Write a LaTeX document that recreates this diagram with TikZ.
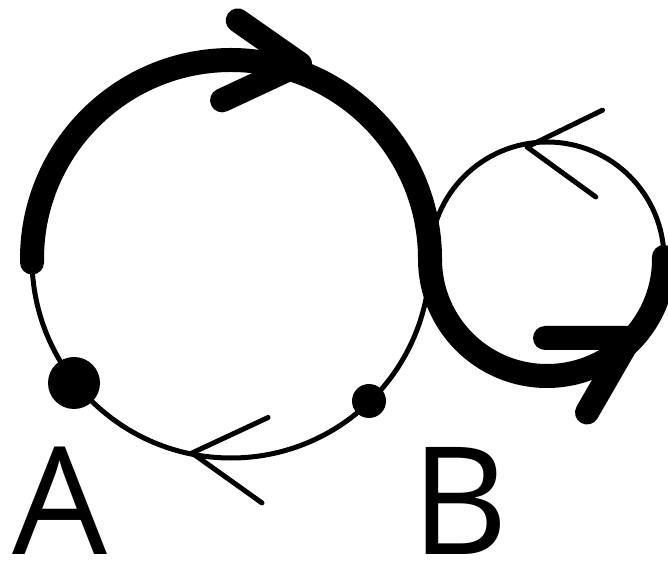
\documentclass[tikz,border=0pt]{standalone}
\usepackage{fontspec}
\setmainfont{Open Sans}
\usetikzlibrary{calc}
\begin{document}
\begin{tikzpicture}[x=1pt,y=1pt,
  thickline/.style={line width=24pt, line cap=round, line join=round},
  thinline/.style={line width=5pt, line cap=round, line join=round},
  lbl/.style={font=\fontsize{150}{150}\selectfont, inner sep=0pt, anchor=base west}]
\useasboundingbox (0,0) rectangle (668,562);
\coordinate (bigc) at (231,303);
\coordinate (smallc) at (547,303);
% circles
\draw[thinline] (bigc) circle[radius=199];
\draw[thinline] (smallc) circle[radius=117];
% thick S path
\draw[thickline] ([shift={(181:199)}]bigc) arc[start angle=181, end angle=0, radius=199]
  arc[start angle=180, end angle=361, radius=117];
% thick arrows
\coordinate (t1) at (300,498);
\draw[thickline] ($(t1)+(145:76)$) -- (t1) -- ($(t1)+(205:86)$);
\coordinate (t2) at (630,224);
\draw[thickline] ($(t2)+(180:85)$) -- (t2) -- ($(t2)+(240:86)$);
% thin arrows
\coordinate (t3) at (527,415);
\draw[thinline] ($(t3)+(26:84)$) -- (t3) -- ($(t3)+(-36:85)$);
\coordinate (t4) at (192,109);
\draw[thinline] ($(t4)+(25:84)$) -- (t4) -- ($(t4)+(-35.5:86)$);
% dots
\coordinate (dA) at (74,179);
\coordinate (dB) at (369,161);
\fill (dA) circle[radius=26];
\fill (dB) circle[radius=17];
% labels
\node[lbl] (la) at (12,8) {A};
\node[lbl] (lb) at (411,8) {B};
\end{tikzpicture}
\end{document}
